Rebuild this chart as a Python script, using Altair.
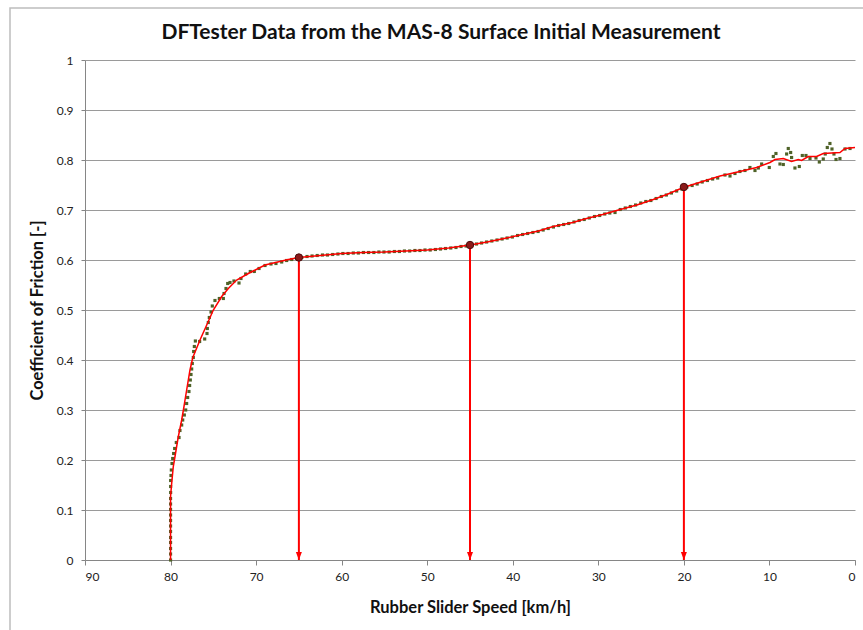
import altair as alt
import pandas as pd

TITLE = "DFTester Data from the MAS-8 Surface Initial Measurement"
X_TITLE = "Rubber Slider Speed [km/h]"
Y_TITLE = "Coefficient of Friction [-]"

# Measured samples: slider speed [km/h] and coefficient of friction
dot_speed = [
    80.0, 80.0, 80.0, 80.0, 80.0, 80.0, 80.0, 80.0, 80.0, 80.0, 80.0, 80.0,
    79.99, 79.99, 79.99, 79.95, 79.91, 79.83, 79.75, 79.64, 79.52, 79.33,
    79.01, 78.90, 78.70, 78.58, 78.39, 78.23, 78.12, 78.0, 77.85, 77.77,
    77.69, 77.61, 77.53, 77.46, 77.34, 77.30, 77.22, 77.10, 76.60, 76.01,
    75.74, 75.70, 75.59, 75.47, 75.27, 75.12, 74.81, 74.30, 73.83, 73.75,
    73.52, 73.32, 73.05, 72.59, 72.0, 71.77, 71.22, 70.68, 70.21, 69.66,
    68.96, 68.26, 67.68, 67.01, 66.43, 65.84,
    65.25, 64.66, 64.05, 63.46, 62.86, 62.24, 61.66, 61.05, 60.44, 59.86,
    59.25, 58.64, 58.05, 57.46, 56.85, 56.24, 55.65, 55.06, 54.45, 53.84,
    53.25, 52.66, 52.05, 51.44, 50.85, 50.26, 49.65, 49.04, 48.45, 47.86,
    47.25, 46.64, 46.05, 45.46, 44.85, 44.24, 43.65, 43.06, 42.45, 41.84,
    41.25, 40.66, 40.05, 39.44, 38.85, 38.26, 37.65, 37.04, 36.45, 35.86,
    35.25, 34.64, 34.05, 33.46, 32.85, 32.24, 31.65, 31.06, 30.45, 29.84,
    29.25, 28.66, 28.05, 27.44, 26.85, 26.26, 25.65, 25.04, 24.45, 23.86,
    23.25, 22.64, 22.05, 21.46, 20.85, 20.24, 19.65, 19.04, 18.45, 17.86,
    17.25, 16.64, 16.05,
    15.20, 14.61, 14.03, 13.45, 12.86, 12.28, 11.69, 11.30, 10.91, 10.02,
    9.55, 9.24, 8.77, 8.38, 7.99, 7.80, 7.52, 7.41, 7.02, 6.51, 6.16, 5.73,
    5.26, 4.56, 4.17, 3.71, 3.48, 3.24, 2.93, 2.69, 2.46, 2.22, 1.76, 1.17,
    0.58,
]
dot_mu = [
    0.0, 0.012, 0.023, 0.035, 0.045, 0.057, 0.068, 0.079, 0.090, 0.101, 0.112, 0.123,
    0.135, 0.147, 0.159, 0.169, 0.180, 0.193, 0.203, 0.213, 0.223, 0.235,
    0.245, 0.259, 0.270, 0.280, 0.290, 0.300, 0.313, 0.325, 0.337, 0.349,
    0.360, 0.371, 0.382, 0.393, 0.405, 0.417, 0.427, 0.438, 0.437, 0.442,
    0.453, 0.463, 0.475, 0.485, 0.496, 0.508, 0.519, 0.523, 0.523, 0.533,
    0.543, 0.553, 0.555, 0.558, 0.554, 0.563, 0.572, 0.577, 0.577, 0.583,
    0.589, 0.592, 0.593, 0.596, 0.599, 0.601,
    0.603, 0.605, 0.607, 0.608, 0.609, 0.610, 0.610, 0.611, 0.612, 0.613,
    0.613, 0.614, 0.614, 0.615, 0.615, 0.615, 0.616, 0.616, 0.616, 0.617,
    0.617, 0.618, 0.618, 0.619, 0.619, 0.620, 0.620, 0.621, 0.622, 0.623,
    0.624, 0.625, 0.627, 0.628, 0.630, 0.632, 0.634, 0.636, 0.638, 0.640,
    0.642, 0.644, 0.646, 0.649, 0.651, 0.653, 0.655, 0.657, 0.660, 0.663,
    0.666, 0.669, 0.671, 0.673, 0.676, 0.679, 0.681, 0.684, 0.687, 0.689,
    0.692, 0.694, 0.695, 0.701, 0.704, 0.707, 0.710, 0.714, 0.717, 0.719,
    0.723, 0.727, 0.730, 0.734, 0.738, 0.742, 0.746, 0.749, 0.752, 0.756,
    0.759, 0.762, 0.764,
    0.770, 0.768, 0.773, 0.777, 0.779, 0.785, 0.779, 0.784, 0.792, 0.785,
    0.807, 0.813, 0.792, 0.791, 0.812, 0.823, 0.815, 0.805, 0.784, 0.787,
    0.809, 0.809, 0.803, 0.804, 0.796, 0.802, 0.812, 0.825, 0.833, 0.822,
    0.812, 0.801, 0.803, 0.822, 0.823,
]

# Smoothed friction curve
fit_speed = [
    80.0, 80.0, 79.87, 79.68, 79.48, 79.09, 78.70, 78.43, 78.31, 77.73, 77.40,
    76.56, 75.59, 75.0, 74.02, 73.25, 72.27, 70.91, 68.96, 66.24, 65.0, 62.5,
    60.0, 57.5, 55.0, 52.5, 50.0, 47.5, 45.0, 43.0, 41.0, 39.16, 37.0, 35.27,
    33.0, 31.37, 29.5, 27.86, 25.5, 23.58, 22.0, 20.07, 18.0, 15.78, 13.45,
    11.5, 9.94, 9.35, 8.38, 7.41, 6.63, 6.24, 5.46, 4.49, 3.71, 1.76, 1.17, 0.0,
]
fit_mu = [
    0.0, 0.127, 0.153, 0.187, 0.207, 0.247, 0.280, 0.307, 0.320, 0.380, 0.405,
    0.440, 0.477, 0.500, 0.527, 0.543, 0.560, 0.573, 0.590, 0.601, 0.605, 0.609,
    0.613, 0.615, 0.616, 0.618, 0.620, 0.624, 0.630, 0.636, 0.643, 0.650, 0.658,
    0.667, 0.675, 0.683, 0.691, 0.699, 0.710, 0.721, 0.731, 0.745, 0.756, 0.768,
    0.777, 0.785, 0.795, 0.801, 0.803, 0.797, 0.801, 0.799, 0.807, 0.807, 0.813,
    0.815, 0.823, 0.825,
]

# Highlighted reading points with arrows down to the speed axis
mark_speed = [65, 45, 20]
mark_mu = [0.605, 0.630, 0.746]

dots = pd.DataFrame({"speed": dot_speed, "mu": dot_mu})
fit = pd.DataFrame({"speed": fit_speed, "mu": fit_mu, "i": list(range(len(fit_speed)))})
marks = pd.DataFrame({"speed": mark_speed, "mu": mark_mu, "base": [0.0] * len(mark_speed)})

FONT = "Lato"
W, H = 770, 500

x_scale = alt.Scale(domain=[0, 90], reverse=True, nice=False)
y_scale = alt.Scale(domain=[0, 1], nice=False)

x_axis = alt.Axis(
    values=list(range(0, 91, 10)), title=X_TITLE, grid=False,
    tickSize=5, tickColor="#868686", domainColor="#868686",
    labelFont=FONT, labelFontSize=12, labelColor="#222222", labelPadding=6,
    titleFont=FONT, titleFontSize=16.5, titleFontWeight="bold", titleColor="#111111",
    titleX=W / 2, titleY=47, titleBaseline="middle",
)
y_axis = alt.Axis(
    values=[round(v * 0.1, 1) for v in range(11)], format=".1~f", title=Y_TITLE,
    grid=True, gridColor="#9a9a9a", gridWidth=1,
    tickSize=4, tickColor="#868686", domainColor="#868686",
    labelFont=FONT, labelFontSize=12, labelColor="#222222", labelPadding=8,
    titleFont=FONT, titleFontSize=16.5, titleFontWeight="bold", titleColor="#111111",
    titleX=-48, titleY=H / 2, titleBaseline="middle",
)

x_enc = alt.X("speed:Q", scale=x_scale, axis=x_axis)
y_enc = alt.Y("mu:Q", scale=y_scale, axis=y_axis)

dots_layer = alt.Chart(dots).mark_square(size=10, color="#4F6228", opacity=1).encode(
    x=x_enc, y=y_enc
)
fit_layer = alt.Chart(fit).mark_line(color="#FF0000", strokeWidth=1.5).encode(
    x="speed:Q", y="mu:Q", order="i:Q"
)
arrow_shafts = alt.Chart(marks).mark_rule(color="#FF0000", strokeWidth=2).encode(
    x="speed:Q", y="mu:Q", y2="base:Q"
)
arrow_heads = alt.Chart(marks).mark_point(
    shape="M-0.75,-2L0,0L0.75,-2Z", filled=True, color="#FF0000", size=64, opacity=1
).encode(x="speed:Q", y="base:Q")
reading_points = alt.Chart(marks).mark_circle(
    size=55, color="#8B1A1A", stroke="#4a0d0d", strokeWidth=1, opacity=1
).encode(x="speed:Q", y="mu:Q")

title_layer = alt.Chart(pd.DataFrame({"t": [TITLE]})).mark_text(
    font=FONT, fontSize=21, fontWeight="bold", color="#111111",
    align="center", baseline="middle",
).encode(x=alt.value(356), y=alt.value(-27), text="t:N")

# Chart-area border: its right and bottom edges run past the page
frame_layer = alt.Chart(pd.DataFrame({"k": [0]})).mark_rect(
    fill=None, stroke="#bdbdbd", strokeWidth=1.5
).encode(x=alt.value(-75), x2=alt.value(840), y=alt.value(-52), y2=alt.value(640))

chart = alt.layer(
    frame_layer, title_layer, dots_layer, fit_layer, arrow_shafts, arrow_heads, reading_points
).properties(
    width=W, height=H,
    autosize=alt.AutoSizeParams(type="none"),
    padding={"left": 85, "top": 60, "right": 8, "bottom": 70},
    background="white",
).configure_view(stroke=None)

chart.save("out.html", embed_options={"renderer": "svg", "actions": False})
